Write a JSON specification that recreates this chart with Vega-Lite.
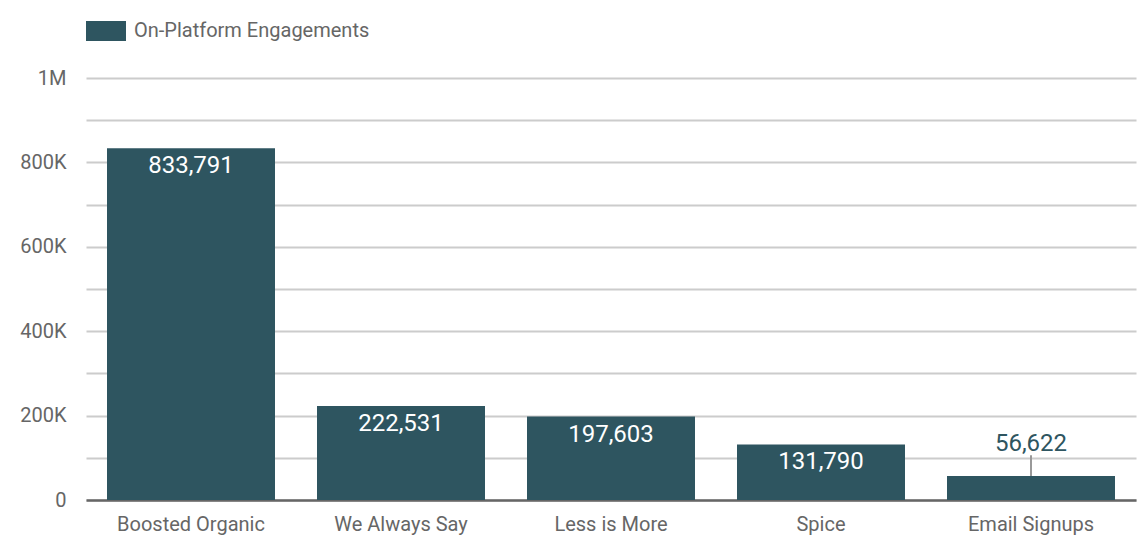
{
  "$schema": "https://vega.github.io/schema/vega-lite/v6.json",
  "width": 1050,
  "height": 422,
  "autosize": {"type": "none"},
  "padding": {"left": 86, "top": 78, "right": 5, "bottom": 40},
  "background": "white",
  "config": {
    "font": "Roboto",
    "view": {"stroke": null},
    "axis": {"labelFont": "Roboto", "labelColor": "#666666", "labelFontSize": 20}
  },
  "data": {
    "values": [
      {"category": "Boosted Organic", "value": 833791},
      {"category": "We Always Say", "value": 222531},
      {"category": "Less is More", "value": 197603},
      {"category": "Spice", "value": 131790},
      {"category": "Email Signups", "value": 56622}
    ]
  },
  "encoding": {
    "x": {
      "field": "category", "type": "nominal", "sort": null,
      "scale": {"paddingInner": 0.2, "paddingOuter": 0.1},
      "axis": {"title": null, "labelAngle": 0, "ticks": false, "domainColor": "#666666", "domainWidth": 2.5, "labelPadding": 14}
    },
    "y": {
      "field": "value", "type": "quantitative",
      "scale": {"domain": [0, 1000000], "nice": false},
      "axis": {
        "title": null, "ticks": false, "domain": false,
        "values": [0, 100000, 200000, 300000, 400000, 500000, 600000, 700000, 800000, 900000, 1000000],
        "labelExpr": "datum.value == 0 ? '0' : datum.value % 200000 != 0 ? '' : datum.value >= 1000000 ? '1M' : (datum.value / 1000) + 'K'",
        "gridColor": "#cccccc", "gridWidth": 2, "labelPadding": 20
      }
    }
  },
  "layer": [
    {
      "mark": {"type": "bar"},
      "encoding": {
        "color": {
          "datum": "On-Platform Engagements",
          "scale": {"range": ["#2e5560"]},
          "legend": {
            "title": null, "orient": "none", "legendX": 0, "legendY": -67,
            "symbolType": "M-1,-0.5H1V0.5H-1Z", "symbolSize": 1600, "symbolStrokeWidth": 0,
            "labelFontSize": 20, "labelColor": "#666666", "labelFont": "Roboto", "labelOffset": 8, "labelLimit": 600
          }
        }
      }
    },
    {
      "transform": [{"filter": "datum.value >= 100000"}],
      "mark": {"type": "text", "baseline": "alphabetic", "dy": 25, "fontSize": 24, "color": "white", "font": "Roboto"},
      "encoding": {"text": {"field": "value", "type": "quantitative", "format": ","}}
    },
    {
      "transform": [{"filter": "datum.value < 100000"}],
      "mark": {"type": "rule", "color": "#999999", "strokeWidth": 2},
      "encoding": {"y2": {"datum": 106000}}
    },
    {
      "transform": [{"filter": "datum.value < 100000"}],
      "mark": {"type": "text", "baseline": "alphabetic", "dy": -25, "fontSize": 24, "color": "#2e5560", "font": "Roboto"},
      "encoding": {"text": {"field": "value", "type": "quantitative", "format": ","}}
    }
  ]
}
